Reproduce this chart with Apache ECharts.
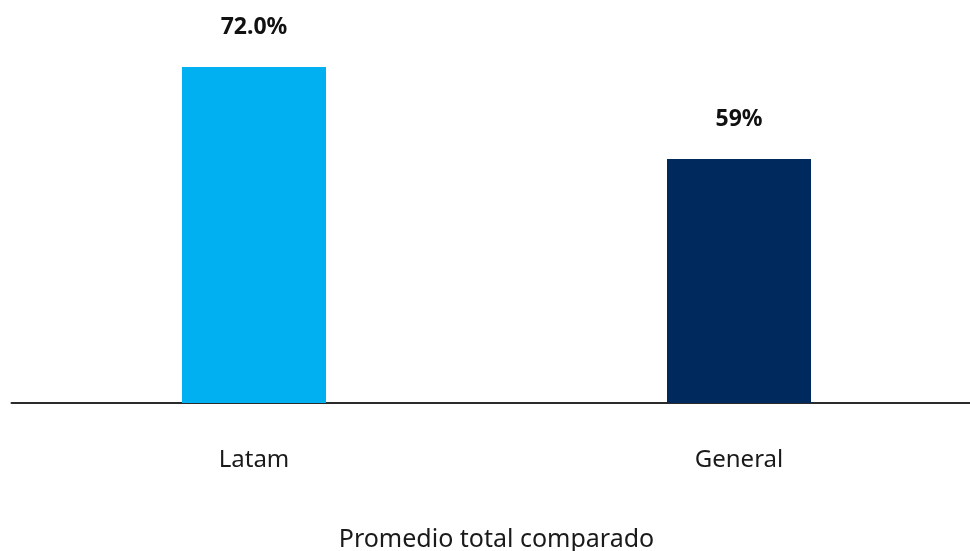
<!DOCTYPE html>
<html>
<head>
<meta charset="utf-8">
<script src="https://cdn.jsdelivr.net/npm/echarts@6/dist/echarts.min.js"></script>
<style>html,body{margin:0;padding:0;background:#fff;}#c{width:970px;height:551px;}</style>
</head>
<body>
<div id="c"></div>
<script>
const categories = ['Latam', 'General'];
const values = [72.0, 59];
const valueLabels = ['72.0%', '59%'];
const barColors = ['#00B0F0', '#002A5E'];
const axisTitle = 'Promedio total comparado';

const chart = echarts.init(document.getElementById('c'), null, {renderer: 'canvas'});
chart.setOption({
  animation: false,
  backgroundColor: '#ffffff',
  grid: {left: 11.5, width: 970, top: 67, height: 336, containLabel: false, outerBoundsMode: 'none'},
  xAxis: {
    type: 'category',
    data: categories,
    name: axisTitle,
    nameLocation: 'middle',
    nameGap: 124,
    nameTextStyle: {fontFamily: 'Noto Sans', fontSize: 25, color: '#1a1a1a'},
    axisLine: {show: true, lineStyle: {color: '#2b2b2b', width: 2}},
    axisTick: {show: false},
    axisLabel: {fontFamily: 'Noto Sans', fontSize: 24, color: '#1a1a1a', margin: 45}
  },
  yAxis: {
    type: 'value',
    min: 24.5,
    max: 72,
    show: false,
    splitLine: {show: false}
  },
  series: [{
    type: 'bar',
    barWidth: 144,
    data: values.map((v, i) => ({value: v, itemStyle: {color: barColors[i]}})),
    label: {
      show: true,
      position: 'top',
      distance: 28,
      fontFamily: 'Noto Sans',
      fontWeight: 'bold',
      fontSize: 23,
      color: '#111',
      formatter: p => valueLabels[p.dataIndex]
    }
  }]
});
</script>
</body>
</html>
